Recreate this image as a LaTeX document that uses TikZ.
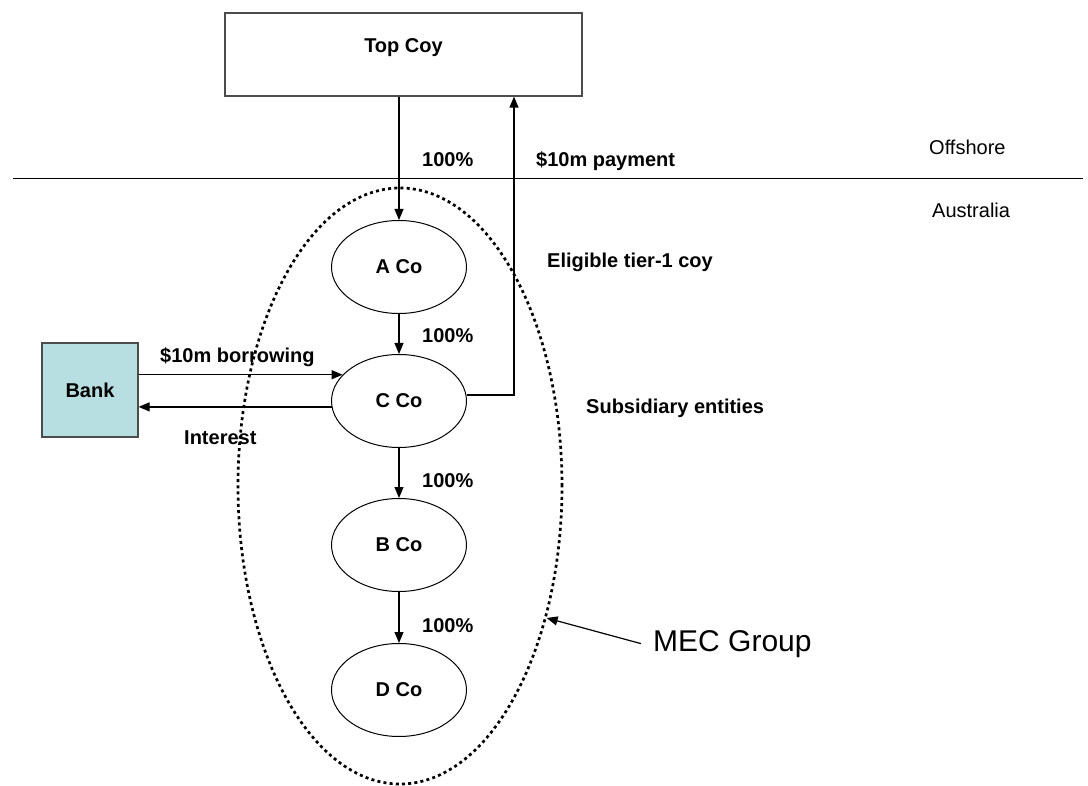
\documentclass[tikz,border=0pt]{standalone}
\usepackage{fontspec}
\setmainfont{Liberation Sans}
\usepackage{xcolor}
\usetikzlibrary{arrows.meta,shapes.geometric}
\definecolor{bankblue}{RGB}{183,222,224}

\begin{document}
\begin{tikzpicture}[x=1pt,y=-1pt,>={Triangle[length=11pt,width=9pt]},
    lbl/.style={font=\fontsize{20}{24}\selectfont\bfseries,inner sep=0pt},
    plain/.style={font=\fontsize{20}{24}\selectfont,inner sep=0pt},
    coy/.style={draw,ellipse,line width=1pt,minimum width=135pt,minimum height=93pt,
      inner sep=0pt,font=\fontsize{20}{24}\selectfont\bfseries},
    link/.style={->,line width=1.2pt},
    group/.style={draw,ellipse,line width=2.7pt,dash pattern=on 3pt off 3.2pt,
      minimum width=324pt,minimum height=596pt}]
  \useasboundingbox (0,0) rectangle (1088,786);

  % offshore / australia divide
  \coordinate (divL) at (13,178.5);
  \coordinate (divR) at (1083,178.5);
  \draw[line width=1.3pt] (divL) -- (divR);
  \node[plain,anchor=base west] (offshore) at (929,155) {Offshore};
  \node[plain,anchor=base west] (australia) at (932,218) {Australia};

  % entities
  \node[draw=black!70,line width=1.2pt,minimum width=357pt,minimum height=83pt,
    inner sep=0pt,text depth=17pt,font=\fontsize{20}{24}\selectfont\bfseries]
    (topcoy) at (403.5,54.5) {Top Coy};
  \node[coy] (aco) at (399,267) {A Co};
  \node[coy] (cco) at (399,401) {C Co};
  \node[coy] (bco) at (399,545) {B Co};
  \node[coy] (dco) at (399,690) {D Co};
  \node[draw=black!70,line width=1.2pt,fill=bankblue,minimum width=96pt,minimum height=94pt,
    inner sep=0pt,font=\fontsize{20}{24}\selectfont\bfseries] (bank) at (90,390) {Bank};
  \node[group] (mec) at (400,486) {};

  % ownership
  \draw[link] (topcoy.south -| aco.north) -- (aco.north);
  \draw[link] (aco) -- (cco);
  \draw[link] (cco) -- (bco);
  \draw[link] (bco) -- (dco);
  \node[lbl,anchor=base west] (own1) at (422,167) {100\%};
  \node[lbl,anchor=base west] (own2) at (422,343) {100\%};
  \node[lbl,anchor=base west] (own3) at (422,487) {100\%};
  \node[lbl,anchor=base west] (own4) at (422,632) {100\%};

  % payment back up to Top Coy
  \coordinate (payX) at (514,0);
  \draw[link] ([yshift=6pt]cco.east) -| (topcoy.south -| payX);
  \node[lbl,anchor=base west] (payment) at (536,167) {\$10m payment};

  % bank flows
  \draw[link] (bank.east |- cco.155) -- (cco.155);
  \draw[link] (cco.185) -- (bank.east |- cco.185);
  \node[lbl,anchor=base west] (borrow) at (160,363) {\$10m borrowing};
  \node[lbl,anchor=base west] (interest) at (184,445) {Interest};

  % notes
  \node[lbl,anchor=base west] (tier1) at (547,268) {Eligible tier-1 coy};
  \node[lbl,anchor=base west] (subs) at (586,414) {Subsidiary entities};
  \node[font=\fontsize{30}{36}\selectfont,inner sep=0pt,inner xsep=12pt,anchor=base west]
    (mecname) at (641,651) {MEC Group};
  \draw[link] (mecname.west) -- (mec.-42);
\end{tikzpicture}
\end{document}
